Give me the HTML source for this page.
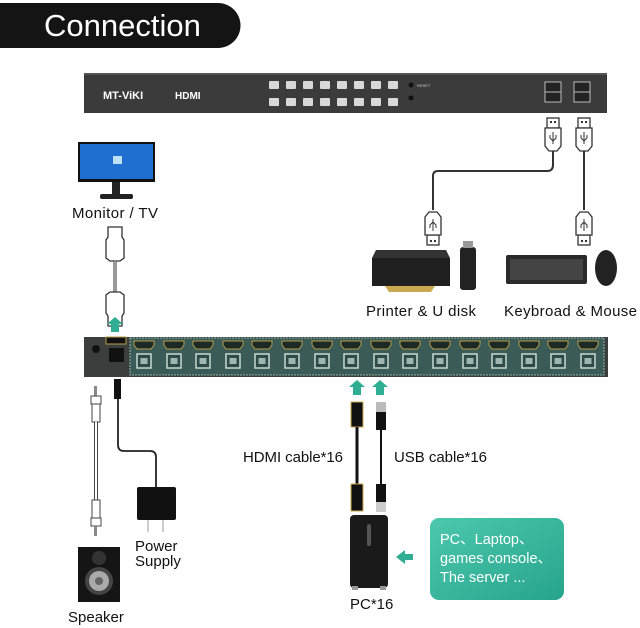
<!DOCTYPE html>
<html><head><meta charset="utf-8"><style>
html,body{margin:0;padding:0;background:#fff;width:640px;height:628px;overflow:hidden}
svg{display:block}
text{font-family:"Liberation Sans","Noto Sans CJK SC",sans-serif}
</style></head><body>
<svg width="640" height="628" viewBox="0 0 640 628" xmlns="http://www.w3.org/2000/svg">
<defs>
<linearGradient id="tg" x1="0" y1="0" x2="1" y2="1"><stop offset="0" stop-color="#4cc8ad"/><stop offset="1" stop-color="#27a48c"/></linearGradient>
<g id="hdmi"><path d="M-10,0 h20 v4 l-3,4 h-14 l-3,-4z" fill="#1c2a26" stroke="#b89b4a" stroke-width="1"/></g>
<g id="usbb"><rect x="-7" y="-7" width="14" height="14" fill="#2d4b46" stroke="#c8d8d4" stroke-width="1.5"/><rect x="-3.5" y="-3" width="7" height="6" fill="#9fb6b1"/></g>
<g id="btn"><rect width="10" height="8" fill="#d8d8d8" rx="1"/></g>
<g id="arrow"><path d="M0,-8 l8,7 h-4 v8 h-8 v-8 h-4z" fill="#2fae93"/></g>
<g id="usbplug"><rect x="-6" y="0" width="12" height="10" fill="#fff" stroke="#333" stroke-width="1.3"/><rect x="-3" y="3" width="2" height="2" fill="#333"/><rect x="1" y="3" width="2" height="2" fill="#333"/><path d="M-8,10 h16 v18 l-4,5 h-8 l-4,-5z" fill="#fff" stroke="#333" stroke-width="1.3"/><path d="M0,14 v12 M-3,17 v3 l3,3 M3,17 v3 l-3,3" fill="none" stroke="#333" stroke-width="1"/></g>
</defs>

<!-- title -->
<path d="M0,3 H218 a22.5,22.5 0 0 1 0,45 H0z" fill="#141414"/>
<text x="44" y="36" font-size="31" fill="#fff">Connection</text>

<!-- front panel -->
<rect x="84" y="73" width="523" height="40" fill="#3b3b3b"/>
<rect x="84" y="73" width="523" height="2" fill="#555"/>
<text x="103" y="99" font-size="11" font-weight="bold" fill="#fff">MT-ViKI</text>
<text x="175" y="99" font-size="10" font-weight="bold" fill="#fff">HDMI</text>
<g>
<use href="#btn" x="269" y="81"/><use href="#btn" x="286" y="81"/><use href="#btn" x="303" y="81"/><use href="#btn" x="320" y="81"/><use href="#btn" x="337" y="81"/><use href="#btn" x="354" y="81"/><use href="#btn" x="371" y="81"/><use href="#btn" x="388" y="81"/>
<use href="#btn" x="269" y="98"/><use href="#btn" x="286" y="98"/><use href="#btn" x="303" y="98"/><use href="#btn" x="320" y="98"/><use href="#btn" x="337" y="98"/><use href="#btn" x="354" y="98"/><use href="#btn" x="371" y="98"/><use href="#btn" x="388" y="98"/>
</g>
<circle cx="411" cy="85" r="2.5" fill="#111"/><circle cx="411" cy="98" r="2.5" fill="#111"/>
<text x="417" y="87" font-size="4" fill="#ccc">RESET</text>
<rect x="545" y="82" width="16" height="20" fill="#222" stroke="#bbb" stroke-width="1"/>
<rect x="574" y="82" width="16" height="20" fill="#222" stroke="#bbb" stroke-width="1"/>
<line x1="545" y1="92" x2="561" y2="92" stroke="#bbb"/><line x1="574" y1="92" x2="590" y2="92" stroke="#bbb"/>

<!-- top usb cables -->
<path d="M553,148 V165 q0,6 -6,6 H438 q-5,0 -5,5 V210" fill="none" stroke="#333" stroke-width="2"/>
<path d="M584,148 V210" fill="none" stroke="#333" stroke-width="2"/>
<use href="#usbplug" x="553" y="118"/>
<use href="#usbplug" x="584" y="118"/>
<g transform="translate(433,245) scale(1,-1)"><use href="#usbplug"/></g>
<g transform="translate(584,245) scale(1,-1)"><use href="#usbplug"/></g>

<!-- printer -->
<path d="M372,258 h78 v28 h-78z" fill="#1f1f1f"/>
<path d="M376,250 h70 l4,8 h-78z" fill="#333"/>
<path d="M385,286 h50 l-4,6 h-42z" fill="#c9a94f"/>
<rect x="460" y="247" width="16" height="43" rx="3" fill="#222"/>
<rect x="463" y="241" width="10" height="7" fill="#999"/>
<!-- keyboard mouse -->
<rect x="506" y="255" width="81" height="29" rx="2" fill="#2a2a2a"/>
<rect x="510" y="259" width="73" height="21" fill="#444"/>
<ellipse cx="606" cy="268" rx="11" ry="18" fill="#222"/>
<text x="366" y="316" font-size="15" fill="#111" textLength="110">Printer &amp; U disk</text>
<text x="504" y="316" font-size="15" fill="#111" textLength="133">Keybroad &amp; Mouse</text>

<!-- monitor -->
<rect x="78" y="142" width="77" height="40" fill="#111"/>
<rect x="80" y="144" width="73" height="35" fill="#1f6fd1"/>
<rect x="113" y="156" width="9" height="8" fill="#bfe0ff"/>
<rect x="112" y="182" width="8" height="12" fill="#222"/>
<rect x="100" y="194" width="33" height="5" rx="2" fill="#222"/>
<text x="72" y="218" font-size="15" fill="#111" textLength="86">Monitor / TV</text>
<path d="M108,227 h14 v10 l2,3 v18 l-4,3 h-10 l-4,-3 v-18 l2,-3z" fill="#fff" stroke="#333" stroke-width="1.3"/>
<line x1="115" y1="261" x2="115" y2="292" stroke="#333" stroke-width="3"/><line x1="115" y1="261" x2="115" y2="292" stroke="#fff" stroke-width="1"/>
<path d="M110,292 h10 l4,3 v18 l-2,3 v10 h-14 v-10 l-2,-3 v-18z" fill="#fff" stroke="#333" stroke-width="1.3"/>
<use href="#arrow" x="115" y="325"/>

<!-- rear panel -->
<rect x="84" y="337" width="524" height="40" fill="#3a3f3e"/>
<rect x="130" y="338" width="474" height="37" fill="#3b5c56" stroke="#8fb3ab" stroke-width="1" stroke-dasharray="2,1"/>
<circle cx="96" cy="349" r="4" fill="#111"/>
<rect x="106" y="337" width="20" height="7" fill="#111" stroke="#b89b4a"/>
<rect x="109" y="348" width="15" height="14" fill="#111"/>
<g>
<use href="#hdmi" x="144" y="341"/><use href="#hdmi" x="174" y="341"/><use href="#hdmi" x="203" y="341"/><use href="#hdmi" x="233" y="341"/><use href="#hdmi" x="262" y="341"/><use href="#hdmi" x="292" y="341"/><use href="#hdmi" x="322" y="341"/><use href="#hdmi" x="351" y="341"/><use href="#hdmi" x="381" y="341"/><use href="#hdmi" x="410" y="341"/><use href="#hdmi" x="440" y="341"/><use href="#hdmi" x="470" y="341"/><use href="#hdmi" x="499" y="341"/><use href="#hdmi" x="529" y="341"/><use href="#hdmi" x="558" y="341"/><use href="#hdmi" x="588" y="341"/>
<use href="#usbb" x="144" y="361"/><use href="#usbb" x="174" y="361"/><use href="#usbb" x="203" y="361"/><use href="#usbb" x="233" y="361"/><use href="#usbb" x="262" y="361"/><use href="#usbb" x="292" y="361"/><use href="#usbb" x="322" y="361"/><use href="#usbb" x="351" y="361"/><use href="#usbb" x="381" y="361"/><use href="#usbb" x="410" y="361"/><use href="#usbb" x="440" y="361"/><use href="#usbb" x="470" y="361"/><use href="#usbb" x="499" y="361"/><use href="#usbb" x="529" y="361"/><use href="#usbb" x="558" y="361"/><use href="#usbb" x="588" y="361"/>
</g>
<use href="#arrow" x="357" y="388"/><use href="#arrow" x="380" y="388"/>

<!-- speaker cable & power -->
<rect x="94" y="386" width="3" height="10" fill="#888"/>
<rect x="91" y="396" width="10" height="8" fill="#fff" stroke="#444"/>
<rect x="92" y="404" width="8" height="18" fill="#fff" stroke="#444"/>
<line x1="96" y1="422" x2="96" y2="500" stroke="#444" stroke-width="4"/><line x1="96" y1="422" x2="96" y2="500" stroke="#fff" stroke-width="2"/>
<rect x="92" y="500" width="8" height="18" fill="#fff" stroke="#444"/>
<rect x="91" y="518" width="10" height="8" fill="#fff" stroke="#444"/>
<rect x="94" y="526" width="3" height="10" fill="#888"/>
<rect x="114" y="379" width="7" height="20" fill="#111"/>
<path d="M118,399 V445 q0,6 6,6 H150 q6,0 6,6 V487" fill="none" stroke="#222" stroke-width="1.8"/>
<rect x="137" y="487" width="39" height="33" rx="2" fill="#111"/>
<line x1="148" y1="520" x2="148" y2="532" stroke="#ccc" stroke-width="2"/><line x1="163" y1="520" x2="163" y2="532" stroke="#ccc" stroke-width="2"/>
<text x="135" y="551" font-size="15" fill="#111">Power</text>
<text x="135" y="566" font-size="15" fill="#111">Supply</text>
<rect x="78" y="547" width="42" height="55" fill="#151515"/>
<circle cx="99" cy="558" r="7" fill="#333"/>
<circle cx="99" cy="581" r="14" fill="#444"/><circle cx="99" cy="581" r="10" fill="#aaa"/><circle cx="99" cy="581" r="4" fill="#666"/>
<text x="68" y="622" font-size="15" fill="#111">Speaker</text>

<!-- pc cables -->
<rect x="351" y="402" width="12" height="25" fill="#111" stroke="#c9a94f"/>
<line x1="357" y1="427" x2="357" y2="484" stroke="#111" stroke-width="3"/>
<rect x="351" y="484" width="12" height="27" fill="#111" stroke="#c9a94f"/>
<rect x="376" y="402" width="10" height="10" fill="#bbb"/>
<rect x="376" y="412" width="10" height="18" fill="#111"/>
<line x1="381" y1="430" x2="381" y2="484" stroke="#111" stroke-width="2"/>
<rect x="376" y="484" width="10" height="18" fill="#111"/>
<rect x="376" y="502" width="10" height="10" fill="#ccc"/>
<text x="243" y="462" font-size="15" fill="#111" textLength="100">HDMI cable*16</text>
<text x="394" y="462" font-size="15" fill="#111" textLength="93">USB cable*16</text>
<rect x="350" y="515" width="38" height="73" rx="4" fill="#1a1a1a"/>
<rect x="367" y="524" width="4" height="22" rx="2" fill="#555"/>
<rect x="352" y="586" width="6" height="4" fill="#999"/><rect x="380" y="586" width="6" height="4" fill="#999"/>
<text x="350" y="609" font-size="15" fill="#111">PC*16</text>
<path d="M396,557 l9,-7 v4 h8 v6 h-8 v4z" fill="#2fae93"/>
<rect x="430" y="518" width="134" height="82" rx="9" fill="url(#tg)"/>
<text x="440" y="544" font-size="14.5" fill="#fff">PC、Laptop、</text>
<text x="440" y="563" font-size="14.5" fill="#fff">games console、</text>
<text x="440" y="582" font-size="14.5" fill="#fff">The server ...</text>
</svg>
</body></html>
